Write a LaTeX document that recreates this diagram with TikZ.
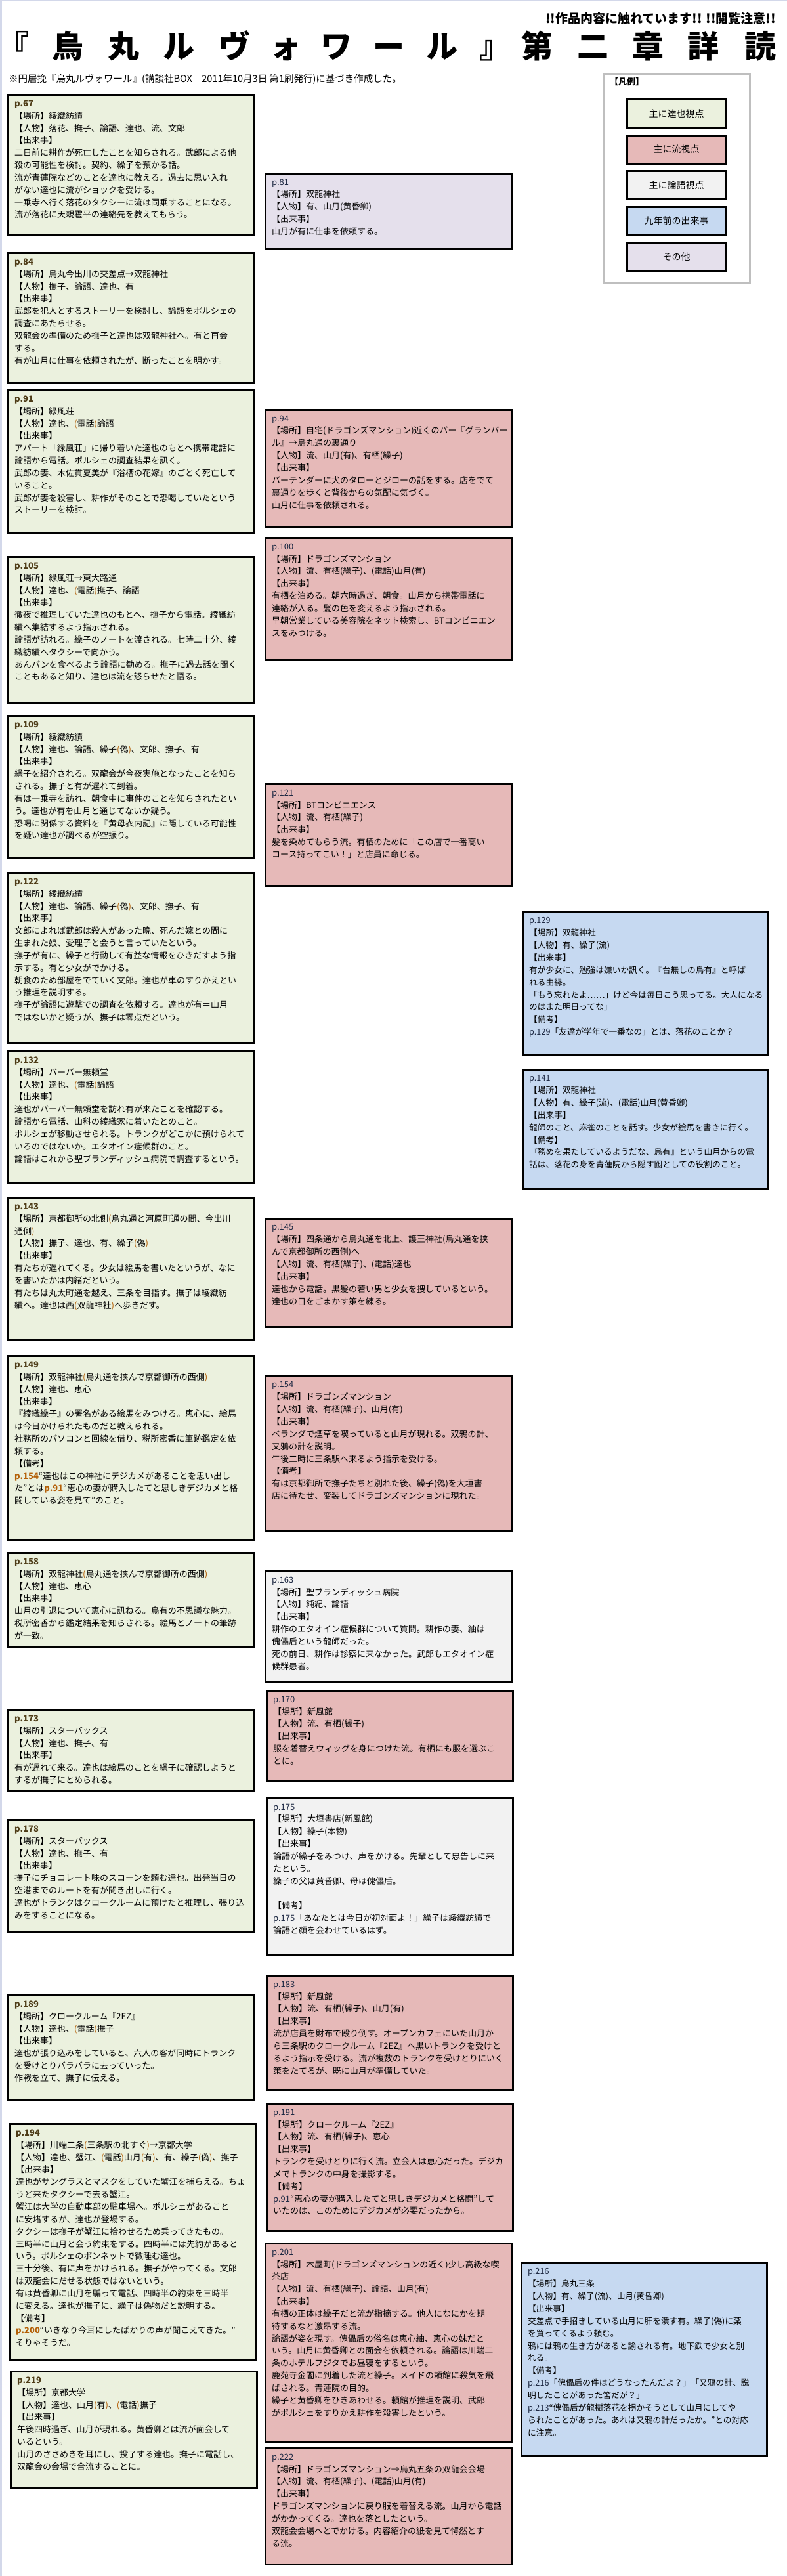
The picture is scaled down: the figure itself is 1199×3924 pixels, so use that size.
\documentclass[tikz,border=0pt]{standalone}
\usepackage{fontspec}
\setmainfont{Noto Sans CJK JP}
\definecolor{cTat}{HTML}{EBF1DE}
\definecolor{cRyu}{HTML}{E6B9B8}
\definecolor{cRon}{HTML}{F2F2F2}
\definecolor{cNine}{HTML}{C6D9F1}
\definecolor{cOth}{HTML}{E5E0EC}
\definecolor{legb}{HTML}{BFBFBF}
\definecolor{edgec}{HTML}{D3D8EA}
\definecolor{parc}{HTML}{B45F06}
\definecolor{labL}{HTML}{4D3B16}
\definecolor{labM}{HTML}{1F2A44}
\newcommand\pL{{\color{parc}(}}
\newcommand\pR{{\color{parc})}}
\newcommand\lab[1]{{\bfseries\color{labL}#1}}
\newcommand\labm[1]{{\color{labM}#1}}
\newcommand\pref[1]{{\bfseries\color{parc}#1}}
\tikzset{
  evbox/.style={draw=black, line width=3pt, inner sep=0pt, outer sep=0pt},
  tat/.style={evbox, fill=cTat},
  ryu/.style={evbox, fill=cRyu},
  ron/.style={evbox, fill=cRon},
  nine/.style={evbox, fill=cNine},
  oth/.style={evbox, fill=cOth},
  txt/.style={inner sep=0pt, align=left, anchor=north west, font=\fontsize{13}{18.85}\selectfont},
  txtR/.style={font=\fontsize{12.7}{18.85}\selectfont},
  legbox/.style={evbox, minimum width=150pt, minimum height=43pt, font=\fontsize{14}{16}\selectfont},
  ttl/.style={inner sep=0pt, anchor=base, font=\fontsize{48}{50}\selectfont\bfseries},
}
% [text opts] name, style, x1, y1, x2, y2, text
\newcommand\evt[8][]{%
  \node[#3, minimum width={#6-#4-3}, minimum height={#7-#5-3}, anchor=north west] (#2) at (#4+1.5,#5+1.5) {};
  \node[txt,#1] (#2t) at ([xshift=9.5pt,yshift=-8pt]#2.north west) {#8};
}
\begin{document}
\begin{tikzpicture}[x=1pt,y=-1pt]
\useasboundingbox (0,0) rectangle (1199,3924);
\fill[white] (0,0) rectangle (1199,3924);
\fill[edgec] (0,0) rectangle (2.5,3924);
\fill[edgec] (0,0) rectangle (1199,1);

% title
\foreach \c/\x [count=\i] in {『/20,烏/103,丸/188,ル/272,ヴ/357,ォ/435,ワ/512,ー/592,ル/673,』/754,第/818,二/903,章/987,詳/1071,読/1158}
  \node[ttl] (t\i) at (\x,88) {\c};
\node[inner sep=0pt, anchor=base east, font=\fontsize{19}{21}\selectfont\bfseries] (warn) at (1182,35) {!!作品内容に触れています!! !!閲覧注意!!};
\node[inner sep=0pt, anchor=base west, font=\fontsize{14.5}{16}\selectfont] (sub) at (13,125.5) {※円居挽『烏丸ルヴォワール』(講談社BOX　2011年10月3日 第1刷発行)に基づき作成した。};

% legend
\node[draw=legb, line width=3pt, minimum width=222pt, minimum height=319pt, anchor=north west, inner sep=0pt] (leg) at (918.5,110.5) {};
\node[inner sep=0pt, anchor=west, font=\fontsize{13}{15}\selectfont\bfseries] (legt) at (929,125) {【凡例】};
\node[legbox, fill=cTat] (l1) at (1030.5,173) {主に達也視点};
\node[legbox, fill=cRyu] (l2) at (1030.5,227.5) {主に流視点};
\node[legbox, fill=cRon] (l3) at (1030.5,282) {主に論語視点};
\node[legbox, fill=cNine] (l4) at (1030.5,336.5) {九年前の出来事};
\node[legbox, fill=cOth] (l5) at (1030.5,391) {その他};

% ---------------- left column ----------------
\evt{p67}{tat}{11}{143}{389}{360}{\lab{p.67}\\
【場所】綾織紡績\\
【人物】落花、撫子、論語、達也、流、文郎\\
【出来事】\\
二日前に耕作が死亡したことを知らされる。武郎による他\\
殺の可能性を検討。契約、繰子を預かる話。\\
流が青蓮院などのことを達也に教える。過去に思い入れ\\
がない達也に流がショックを受ける。\\
一乗寺へ行く落花のタクシーに流は同乗することになる。\\
流が落花に天親雹平の連絡先を教えてもらう。}

\evt{p84}{tat}{11}{384}{389}{585}{\lab{p.84}\\
【場所】烏丸今出川の交差点→双龍神社\\
【人物】撫子、論語、達也、有\\
【出来事】\\
武郎を犯人とするストーリーを検討し、論語をポルシェの\\
調査にあたらせる。\\
双龍会の準備のため撫子と達也は双龍神社へ。有と再会\\
する。\\
有が山月に仕事を依頼されたが、断ったことを明かす。}

\evt{p91}{tat}{11}{593}{389}{813}{\lab{p.91}\\
【場所】緑風荘\\
【人物】達也、\pL 電話\pR 論語\\
【出来事】\\
アパート「緑風荘」に帰り着いた達也のもとへ携帯電話に\\
論語から電話。ポルシェの調査結果を訊く。\\
武郎の妻、木佐貫夏美が『浴槽の花嫁』のごとく死亡して\\
いること。\\
武郎が妻を殺害し、耕作がそのことで恐喝していたという\\
ストーリーを検討。}

\evt{p105}{tat}{11}{847}{389}{1073}{\lab{p.105}\\
【場所】緑風荘→東大路通\\
【人物】達也、\pL 電話\pR 撫子、論語\\
【出来事】\\
徹夜で推理していた達也のもとへ、撫子から電話。綾織紡\\
績へ集結するよう指示される。\\
論語が訪れる。繰子のノートを渡される。七時二十分、綾\\
織紡績へタクシーで向かう。\\
あんパンを食べるよう論語に勧める。撫子に過去話を聞く\\
こともあると知り、達也は流を怒らせたと悟る。}

\evt{p109}{tat}{11}{1089}{389}{1309}{\lab{p.109}\\
【場所】綾織紡績\\
【人物】達也、論語、繰子\pL 偽\pR 、文郎、撫子、有\\
【出来事】\\
繰子を紹介される。双龍会が今夜実施となったことを知ら\\
される。撫子と有が遅れて到着。\\
有は一乗寺を訪れ、朝食中に事件のことを知らされたとい\\
う。達也が有を山月と通じてないか疑う。\\
恐喝に関係する資料を『黄母衣内記』に隠している可能性\\
を疑い達也が調べるが空振り。}

\evt{p122}{tat}{11}{1328}{389}{1590}{\lab{p.122}\\
【場所】綾織紡績\\
【人物】達也、論語、繰子\pL 偽\pR 、文郎、撫子、有\\
【出来事】\\
文郎によれば武郎は殺人があった晩、死んだ嫁との間に\\
生まれた娘、愛理子と会うと言っていたという。\\
撫子が有に、繰子と行動して有益な情報をひきだすよう指\\
示する。有と少女がでかける。\\
朝食のため部屋をでていく文郎。達也が車のすりかえとい\\
う推理を説明する。\\
撫子が論語に遊撃での調査を依頼する。達也が有＝山月\\
ではないかと疑うが、撫子は零点だという。}

\evt{p132}{tat}{11}{1600}{389}{1803}{\lab{p.132}\\
【場所】バーバー無頼堂\\
【人物】達也、\pL 電話\pR 論語\\
【出来事】\\
達也がバーバー無頼堂を訪れ有が来たことを確認する。\\
論語から電話、山科の綾織家に着いたとのこと。\\
ポルシェが移動させられる。トランクがどこかに預けられて\\
いるのではないか。エタオイン症候群のこと。\\
論語はこれから聖ブランディッシュ病院で調査するという。}

\evt{p143}{tat}{11}{1823}{389}{2042}{\lab{p.143}\\
【場所】京都御所の北側\pL 烏丸通と河原町通の間、今出川\\
通側\pR\\
【人物】撫子、達也、有、繰子\pL 偽\pR\\
【出来事】\\
有たちが遅れてくる。少女は絵馬を書いたというが、なに\\
を書いたかは内緒だという。\\
有たちは丸太町通を越え、三条を目指す。撫子は綾織紡\\
績へ。達也は西\pL 双龍神社\pR へ歩きだす。}

\evt{p149}{tat}{11}{2064}{389}{2347}{\lab{p.149}\\
【場所】双龍神社\pL 烏丸通を挟んで京都御所の西側\pR\\
【人物】達也、恵心\\
【出来事】\\
『綾織繰子』の署名がある絵馬をみつける。恵心に、絵馬\\
は今日かけられたものだと教えられる。\\
社務所のパソコンと回線を借り、税所密香に筆跡鑑定を依\\
頼する。\\
【備考】\\
\pref{p.154}“達也はこの神社にデジカメがあることを思い出し\\
た”とは\pref{p.91}“恵心の妻が購入したてと思しきデジカメと格\\
闘している姿を見て”のこと。}

\evt{p158}{tat}{11}{2364}{389}{2511}{\lab{p.158}\\
【場所】双龍神社\pL 烏丸通を挟んで京都御所の西側\pR\\
【人物】達也、恵心\\
【出来事】\\
山月の引退について恵心に訊ねる。烏有の不思議な魅力。\\
税所密香から鑑定結果を知らされる。絵馬とノートの筆跡\\
が一致。}

\evt{p173}{tat}{11}{2603}{389}{2729}{\lab{p.173}\\
【場所】スターバックス\\
【人物】達也、撫子、有\\
【出来事】\\
有が遅れて来る。達也は絵馬のことを繰子に確認しようと\\
するが撫子にとめられる。}

\evt{p178}{tat}{11}{2771}{389}{2944}{\lab{p.178}\\
【場所】スターバックス\\
【人物】達也、撫子、有\\
【出来事】\\
撫子にチョコレート味のスコーンを頼む達也。出発当日の\\
空港までのルートを有が聞き出しに行く。\\
達也がトランクはクロークルームに預けたと推理し、張り込\\
みをすることになる。}

\evt{p189}{tat}{11}{3038}{389}{3200}{\lab{p.189}\\
【場所】クロークルーム『2EZ』\\
【人物】達也、\pL 電話\pR 撫子\\
【出来事】\\
達也が張り込みをしていると、六人の客が同時にトランク\\
を受けとりバラバラに去っていった。\\
作戦を立て、撫子に伝える。}

\evt{p194}{tat}{13}{3234}{392}{3596}{\lab{p.194}\\
【場所】川端二条\pL 三条駅の北すぐ\pR →京都大学\\
【人物】達也、蟹江、\pL 電話\pR 山月\pL 有\pR 、有、繰子\pL 偽\pR 、撫子\\
【出来事】\\
達也がサングラスとマスクをしていた蟹江を捕らえる。ちょ\\
うど来たタクシーで去る蟹江。\\
蟹江は大学の自動車部の駐車場へ。ポルシェがあること\\
に安堵するが、達也が登場する。\\
タクシーは撫子が蟹江に拾わせるため乗ってきたもの。\\
三時半に山月と会う約束をする。四時半には先約があると\\
いう。ポルシェのボンネットで微睡む達也。\\
三十分後、有に声をかけられる。撫子がやってくる。文郎\\
は双龍会にだせる状態ではないという。\\
有は黄昏卿に山月を騙って電話、四時半の約束を三時半\\
に変える。達也が撫子に、繰子は偽物だと説明する。\\
【備考】\\
\pref{p.200}“いきなり今耳にしたばかりの声が聞こえてきた。”\\
そりゃそうだ。}

\evt{p219}{tat}{15}{3611}{393}{3791}{\lab{p.219}\\
【場所】京都大学\\
【人物】達也、山月\pL 有\pR 、\pL 電話\pR 撫子\\
【出来事】\\
午後四時過ぎ、山月が現れる。黄昏卿とは流が面会して\\
いるという。\\
山月のささめきを耳にし、投了する達也。撫子に電話し、\\
双龍会の会場で合流することに。}

% ---------------- middle column ----------------
\evt{p81}{oth}{403}{263}{781}{381}{\labm{p.81}\\
【場所】双龍神社\\
【人物】有、山月(黄昏卿)\\
【出来事】\\
山月が有に仕事を依頼する。}

\evt{p94}{ryu}{403}{623}{781}{805}{\labm{p.94}\\
【場所】自宅(ドラゴンズマンション)近くのバー『グランバー\\
ル』→烏丸通の裏通り\\
【人物】流、山月(有)、有栖(繰子)\\
【出来事】\\
バーテンダーに犬のタローとジローの話をする。店をでて\\
裏通りを歩くと背後からの気配に気づく。\\
山月に仕事を依頼される。}

\evt{p100}{ryu}{403}{818}{781}{1007}{\labm{p.100}\\
【場所】ドラゴンズマンション\\
【人物】流、有栖(繰子)、(電話)山月(有)\\
【出来事】\\
有栖を泊める。朝六時過ぎ、朝食。山月から携帯電話に\\
連絡が入る。髪の色を変えるよう指示される。\\
早朝営業している美容院をネット検索し、BTコンビニエン\\
スをみつける。}

\evt{p121}{ryu}{403}{1193}{781}{1351}{\labm{p.121}\\
【場所】BTコンビニエンス\\
【人物】流、有栖(繰子)\\
【出来事】\\
髪を染めてもらう流。有栖のために「この店で一番高い\\
コース持ってこい！」と店員に命じる。}

\evt{p145}{ryu}{403}{1855}{781}{2023}{\labm{p.145}\\
【場所】四条通から烏丸通を北上、護王神社(烏丸通を挟\\
んで京都御所の西側)へ\\
【人物】流、有栖(繰子)、(電話)達也\\
【出来事】\\
達也から電話。黒髪の若い男と少女を捜しているという。\\
達也の目をごまかす策を練る。}

\evt{p154}{ryu}{403}{2095}{781}{2334}{\labm{p.154}\\
【場所】ドラゴンズマンション\\
【人物】流、有栖(繰子)、山月(有)\\
【出来事】\\
ベランダで煙草を喫っていると山月が現れる。双鴉の計、\\
又鴉の計を説明。\\
午後二時に三条駅へ来るよう指示を受ける。\\
【備考】\\
有は京都御所で撫子たちと別れた後、繰子(偽)を大垣書\\
店に待たせ、変装してドラゴンズマンションに現れた。}

\evt{p163}{ron}{403}{2392}{781}{2563}{\labm{p.163}\\
【場所】聖ブランディッシュ病院\\
【人物】純紀、論語\\
【出来事】\\
耕作のエタオイン症候群について質問。耕作の妻、紬は\\
傀儡后という龍師だった。\\
死の前日、耕作は診察に来なかった。武郎もエタオイン症\\
候群患者。}

\evt{p170}{ryu}{405}{2574}{783}{2715}{\labm{p.170}\\
【場所】新風館\\
【人物】流、有栖(繰子)\\
【出来事】\\
服を着替えウィッグを身につけた流。有栖にも服を選ぶこ\\
とに。}

\evt{p175}{ron}{405}{2738}{783}{2980}{\labm{p.175}\\
【場所】大垣書店(新風館)\\
【人物】繰子(本物)\\
【出来事】\\
論語が繰子をみつけ、声をかける。先輩として忠告しに来\\
たという。\\
繰子の父は黄昏卿、母は傀儡后。\\
\mbox{}\\
【備考】\\
\labm{p.175}「あなたとは今日が初対面よ！」繰子は綾織紡績で\\
論語と顔を会わせているはず。}

\evt{p183}{ryu}{405}{3008}{783}{3185}{\labm{p.183}\\
【場所】新風館\\
【人物】流、有栖(繰子)、山月(有)\\
【出来事】\\
流が店員を財布で殴り倒す。オープンカフェにいた山月か\\
ら三条駅のクロークルーム『2EZ』へ黒いトランクを受けと\\
るよう指示を受ける。流が複数のトランクを受けとりにいく\\
策をたてるが、既に山月が準備していた。}

\evt{p191}{ryu}{405}{3203}{783}{3400}{\labm{p.191}\\
【場所】クロークルーム『2EZ』\\
【人物】流、有栖(繰子)、恵心\\
【出来事】\\
トランクを受けとりに行く流。立会人は恵心だった。デジカ\\
メでトランクの中身を撮影する。\\
【備考】\\
\labm{p.91}“恵心の妻が購入したてと思しきデジカメと格闘”して\\
いたのは、このためにデジカメが必要だったから。}

\evt{p201}{ryu}{403}{3416}{781}{3721}{\labm{p.201}\\
【場所】木屋町(ドラゴンズマンションの近く)少し高級な喫\\
茶店\\
【人物】流、有栖(繰子)、論語、山月(有)\\
【出来事】\\
有栖の正体は繰子だと流が指摘する。他人になにかを期\\
待するなと激昂する流。\\
論語が姿を現す。傀儡后の俗名は恵心紬、恵心の妹だと\\
いう。山月に黄昏卿との面会を依頼される。論語は川端二\\
条のホテルフジタでお昼寝をするという。\\
鹿苑寺金閣に到着した流と繰子。メイドの頼館に殺気を飛\\
ばされる。青蓮院の目的。\\
繰子と黄昏卿をひきあわせる。頼館が推理を説明、武郎\\
がポルシェをすりかえ耕作を殺害したという。}

\evt{p222}{ryu}{403}{3728}{781}{3908}{\labm{p.222}\\
【場所】ドラゴンズマンション→烏丸五条の双龍会会場\\
【人物】流、有栖(繰子)、(電話)山月(有)\\
【出来事】\\
ドラゴンズマンションに戻り服を着替える流。山月から電話\\
がかかってくる。達也を落としたという。\\
双龍会会場へとでかける。内容紹介の紙を見て愕然とす\\
る流。}

% ---------------- right column ----------------
\evt[txtR]{p129}{nine}{795}{1388}{1172}{1608}{\labm{p.129}\\
【場所】双龍神社\\
【人物】有、繰子(流)\\
【出来事】\\
有が少女に、勉強は嫌いか訊く。『台無しの烏有』と呼ば\\
れる由縁。\\
「もう忘れたよ……」けど今は毎日こう思ってる。大人になる\\
のはまた明日ってな」\\
【備考】\\
\labm{p.129}「友達が学年で一番なの」とは、落花のことか？}

\evt[txtR]{p141}{nine}{795}{1628}{1172}{1813}{\labm{p.141}\\
【場所】双龍神社\\
【人物】有、繰子(流)、(電話)山月(黄昏卿)\\
【出来事】\\
龍師のこと、麻雀のことを話す。少女が絵馬を書きに行く。\\
【備考】\\
『務めを果たしているようだな、烏有』という山月からの電\\
話は、落花の身を青蓮院から隠す囮としての役割のこと。}

\evt[txtR]{p216}{nine}{793}{3446}{1170}{3742}{\labm{p.216}\\
【場所】烏丸三条\\
【人物】有、繰子(流)、山月(黄昏卿)\\
【出来事】\\
交差点で手招きしている山月に肝を潰す有。繰子(偽)に薬\\
を買ってくるよう頼む。\\
鴉には鴉の生き方があると諭される有。地下鉄で少女と別\\
れる。\\
【備考】\\
\labm{p.216}「傀儡后の件はどうなったんだよ？」「又鴉の計、説\\
明したことがあった筈だが？」\\
\labm{p.213}“傀儡后が龍樹落花を拐かそうとして山月にしてや\\
られたことがあった。あれは又鴉の計だったか。”との対応\\
に注意。}
\end{tikzpicture}
\end{document}
